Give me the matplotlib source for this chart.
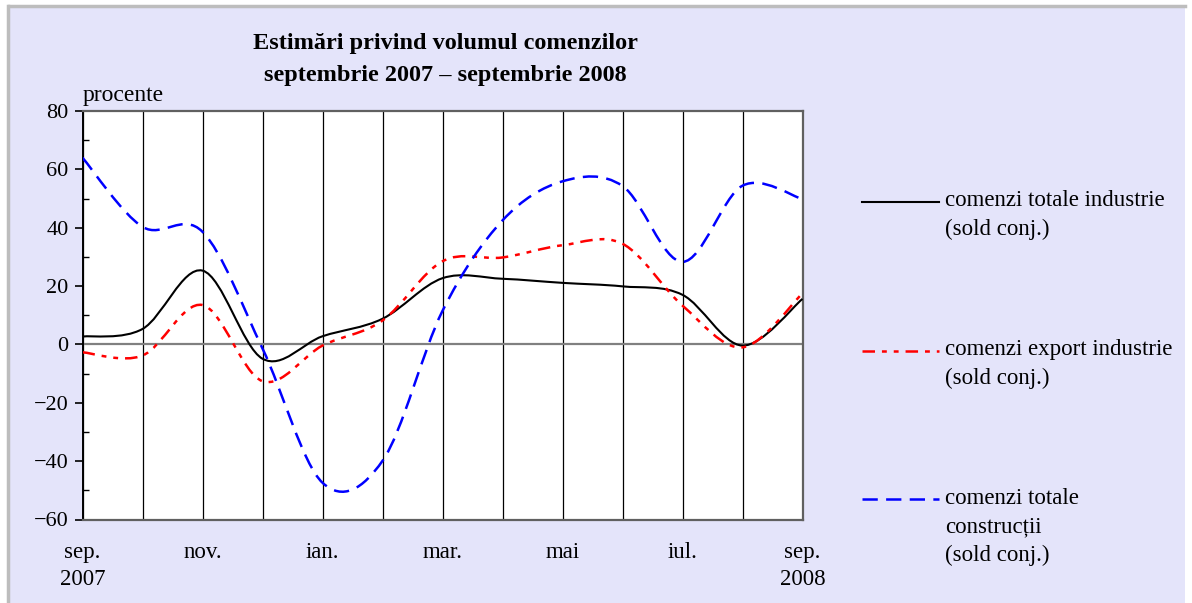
import numpy as np
import matplotlib
matplotlib.use("Agg")
import matplotlib.pyplot as plt
from matplotlib.path import Path
from matplotlib.patches import PathPatch, Rectangle
from matplotlib.lines import Line2D

plt.rcParams['font.family'] = ['Liberation Serif', 'DejaVu Serif']
plt.rcParams['lines.scale_dashes'] = False

# ---- data (monthly, sep 2007 .. sep 2008) ----
months = ["sep.", "oct.", "nov.", "dec.", "ian.", "feb.", "mar.", "apr.",
          "mai", "iun.", "iul.", "aug.", "sep."]
tick_labels = ["sep.\n2007", "", "nov.", "", "ian.", "", "mar.", "",
               "mai", "", "iul.", "", "sep.\n2008"]
totale_industrie = [2.7, 5.3, 25.3, -4.9, 2.8, 8.8, 22.7, 22.5, 21.1, 19.9, 17.0, -0.4, 15.6]
export_industrie = [-2.7, -3.8, 13.5, -12.6, -0.4, 8.2, 28.5, 29.8, 34.0, 34.5, 13.3, -1.0, 17.5]
totale_constructii = [64.0, 40.3, 38.6, -1.4, -47.4, -39.9, 11.5, 42.5, 55.9, 54.3, 28.3, 54.4, 49.8]

series_names = [["comenzi totale industrie", "(sold conj.)"],
                ["comenzi export industrie", "(sold conj.)"],
                ["comenzi totale", "construcții", "(sold conj.)"]]
title_lines = ["Estimări privind volumul comenzilor",
               "septembrie 2007 \u2013 septembrie 2008"]


def smooth_path(x, y):
    """Excel-style smoothed line as cubic Bezier path in data coordinates."""
    p = np.column_stack([x, y]).astype(float)
    n = len(p)
    verts = [tuple(p[0])]
    codes = [Path.MOVETO]
    for i in range(n - 1):
        prev = p[i - 1] if i > 0 else p[i]
        nxt = p[i + 2] if i + 2 < n else p[i + 1]
        c1 = p[i] + (p[i + 1] - prev) / 6.0
        c2 = p[i + 1] - (nxt - p[i]) / 6.0
        verts += [tuple(c1), tuple(c2), tuple(p[i + 1])]
        codes += [Path.CURVE4] * 3
    return Path(verts, codes)


W, H = 1192, 603
fig = plt.figure(figsize=(W / 100, H / 100), dpi=100, facecolor='white')

# background panel
bg = Rectangle((9 / W, 0), (1185 - 9) / W, (H - 7) / H, transform=fig.transFigure,
               facecolor='#E4E4FA', edgecolor='none', zorder=-10)
fig.patches.append(bg)
fig.add_artist(Line2D([9 / W, 1185 / W], [1 - 6 / H, 1 - 6 / H], color='#BDBDBD', lw=2.5))
fig.add_artist(Line2D([8 / W, 8 / W], [0, 1 - 6 / H], color='#BDBDBD', lw=2.5))

ax = fig.add_axes([82.5 / W, 1 - 519.5 / H, 720 / W, (519.5 - 111) / H])
ax.set_facecolor('white')
x = np.arange(len(months))
ax.set_xlim(0, len(months) - 1)
ax.set_ylim(-60, 80)

# vertical grid
ax.set_xticks(x)
ax.set_xticklabels(tick_labels, fontsize=16.5, linespacing=1.4, va='top')
ax.tick_params(axis='x', length=0, pad=16)
ax.grid(axis='x', color='#000000', lw=0.9)
ax.axhline(0, color='#808080', lw=1.6, zorder=2)

ax.set_yticks(np.arange(-60, 81, 20))
ax.set_yticklabels([("\u2212%d" % -v) if v < 0 else "%d" % v for v in range(-60, 81, 20)],
                   fontsize=16)
ax.set_yticks(np.arange(-50, 80, 20), minor=True)
ax.tick_params(axis='y', which='major', direction='out', length=6, width=1.2, pad=4)
ax.tick_params(axis='y', which='minor', direction='in', length=4, width=1.0)

for s in ['top', 'right', 'bottom']:
    ax.spines[s].set_color('#606060')
    ax.spines[s].set_linewidth(1.6)
ax.spines['left'].set_color('black')
ax.spines['left'].set_linewidth(1.4)

styles = [
    dict(edgecolor='black', lw=1.5, linestyle='-'),
    dict(edgecolor='#FF0000', lw=1.8, linestyle=(0, (9, 5, 3.5, 5, 3.5, 5))),
    dict(edgecolor='#0000FF', lw=1.8, linestyle=(0, (11, 6))),
]
for vals, st in zip([totale_industrie, export_industrie, totale_constructii], styles):
    ax.add_patch(PathPatch(smooth_path(x, vals), fill=False, capstyle='butt',
                           zorder=3, **st))

# texts
for line, yy in zip(title_lines, [43, 75]):
    fig.text(445 / W, 1 - yy / H, line, ha='center', va='center', fontsize=17.5,
             fontweight='bold')
fig.text(83 / W, 1 - 96 / H, "procente", ha='left', va='center', fontsize=17)

# legend (manual layout)
leg_y = [202, 351, 499]
for (name, st, yy) in zip(series_names, styles, leg_y):
    fig.add_artist(Line2D([862 / W, 939 / W], [1 - yy / H] * 2, color=st['edgecolor'],
                          lw=st['lw'], linestyle=st['linestyle']))
    for k, ln in enumerate(name):
        fig.text(945 / W, 1 - (yy - 1 + 28.5 * k) / H, ln, ha='left', va='center',
                 fontsize=16.5)

fig.savefig("out.png", dpi=100, facecolor=fig.get_facecolor())
